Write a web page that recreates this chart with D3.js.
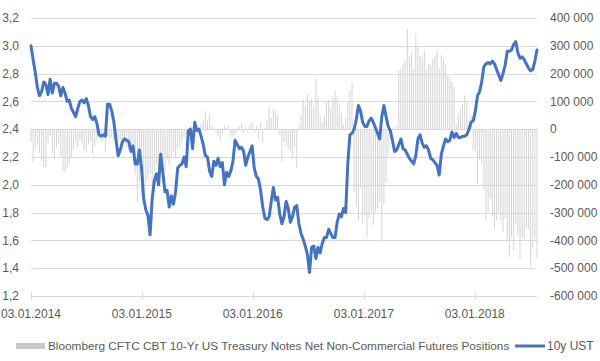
<!DOCTYPE html>
<html>
<head>
<meta charset="utf-8">
<script src="https://cdn.jsdelivr.net/npm/d3@7"></script>
<style>
  body { margin: 0; background: #fff; }
  svg text { font-family: "Liberation Sans", Arial, sans-serif; fill: #595959; }
</style>
</head>
<body>
<div id="chart"></div>
<script>
// 10y UST yield vs CFTC net non-commercial positions, weekly from 03.01.2014

const firstWeek = "2014-01-03",
    lastDay = "2018-07-27";

// net non-commercial positions, thousands of contracts (one per week)
const netPositionsK = [
  -45, -120, -75, -55, -85, -115, -135, -140, -50, -25, -90, -110, -65, -50, -95, -150,
  -155, -140, -125, -100, -70, -50, -65, -40, -50, -75, -85, -55, -45, -90, -60, -40,
  -30, -45, -40, -80, -25, -35, -30, -40, -55, -45, -40, -60, -50, -65, -75, -85,
  -95, -165, -262, -190,
  -230, -215, -200, -185, -160, -210, -150, -130, -170, -140, -120, -150, -110, -130, -100, -80,
  -105, -70, -60, -45, -30, -20,
  -15, 10, -10, 15, 20, -10, 20, 32, 66, 30, 52, 15,
  5, -10, -25, -40, -15, 14, 5, 12, -30, -25, -20,
  -10, 8, 20, -15, 10, -12, 15,
  25, -10, 10, -35, 25, -50, 5, 30, 83, 40, 72, 64, 52,
  -20, -118, -45, -60, -70, -80, -105, -60, -140, 10,
  50, 110, 85, 125, 100, 110, 85, 182, 115, 50, 25, 50, 100, 105, 75, 115,
  140, 120, 95, 60, 15, 40, 100, 140, 170,
  -225, -280, -330, -213, -339, -309, -387, -320, -303, -345, -300, -285, -261, -405, -270, -190, -93,
  -10, 5, -5, 10,
  212, 218, 236, 248, 359, 259, 272, 212, 344, 296, 266, 259, 284, 212, 236, 230,
  254, 263, 284, 218, 266, 254, 230, 194, 188, 170, 152,
  20, 55, 75, 90, 122, 100, 35, 50,
  -75, -80, -195, -110, -125, -219, -325, -297, -249, -315, -357, -327, -303, -330, -369, -320,
  -405, -459, -390, -435, -339, -380, -465, -390, -395, -355, -360, -495, -430, -395, -465
];

// 10y UST yield, % (one per week)
const ustYield = [
  3.00, 2.90, 2.81, 2.70, 2.64, 2.67, 2.74, 2.72, 2.65, 2.76, 2.66, 2.73, 2.73, 2.71, 2.64, 2.70,
  2.66, 2.60, 2.61, 2.55, 2.52, 2.49, 2.55, 2.60, 2.61, 2.59, 2.62, 2.57, 2.49, 2.47, 2.49, 2.44,
  2.36, 2.35, 2.36, 2.35, 2.58, 2.58, 2.53, 2.45, 2.32, 2.21, 2.25, 2.31, 2.33, 2.32, 2.31, 2.24,
  2.28, 2.15, 2.15, 2.25, 2.12,
  1.90, 1.82, 1.78, 1.64, 1.90, 2.03, 2.08, 2.00, 2.22, 2.09, 1.95, 1.96, 1.84, 1.92, 1.86, 1.95,
  2.12, 2.14, 2.15, 2.20, 2.13, 2.39, 2.40, 2.26, 2.45, 2.39, 2.40, 2.35, 2.29, 2.21, 2.20, 2.10,
  2.06, 2.17, 2.14, 2.19, 2.13, 2.16, 2.00, 2.09, 2.06, 2.10, 2.17, 2.32, 2.29, 2.26, 2.27, 2.24,
  2.14, 2.20, 2.24, 2.28,
  2.12, 2.06, 2.04, 1.96, 1.84, 1.76, 1.75, 1.77, 1.88, 1.98, 1.89, 1.91, 1.79, 1.72, 1.77, 1.88,
  1.83, 1.73, 1.77, 1.84, 1.85, 1.72, 1.65, 1.61, 1.56, 1.50, 1.37, 1.55, 1.56, 1.47, 1.55, 1.51,
  1.58, 1.62, 1.62, 1.68, 1.65, 1.62, 1.62, 1.73, 1.79, 1.77, 1.83, 1.80, 2.15, 2.36, 2.37, 2.40,
  2.47, 2.57, 2.53, 2.45,
  2.42, 2.42, 2.46, 2.48, 2.45, 2.41, 2.37, 2.33, 2.49, 2.57, 2.49, 2.42, 2.39, 2.32, 2.24, 2.25,
  2.29, 2.33, 2.26, 2.25, 2.22, 2.19, 2.17, 2.15, 2.21, 2.33, 2.36, 2.30, 2.27, 2.28, 2.25, 2.19,
  2.18, 2.16, 2.14, 2.07, 2.22, 2.28, 2.33, 2.31, 2.32, 2.38, 2.34, 2.37, 2.34, 2.34, 2.35, 2.35,
  2.36, 2.40, 2.45, 2.46,
  2.53, 2.64, 2.67, 2.74, 2.85, 2.87, 2.88, 2.87, 2.89, 2.87, 2.83, 2.79, 2.75, 2.80, 2.86, 2.96,
  2.96, 2.97, 3.01, 3.03, 2.95, 2.91, 2.92, 2.90, 2.87, 2.84, 2.82, 2.83, 2.89, 2.97
];

const dateTicks = ["2014-01-03", "2015-01-03", "2016-01-03", "2017-01-03", "2018-01-03"];
const yieldTicks = [1.2, 1.4, 1.6, 1.8, 2.0, 2.2, 2.4, 2.6, 2.8, 3.0, 3.2];
const positionTicksK = [-600, -500, -400, -300, -200, -100, 0, 100, 200, 300, 400];

const barLabel = "Bloomberg CFTC CBT 10-Yr US Treasury Notes Net Non-Commercial Futures Positions",
    lineLabel = "10y UST";

const width = 600,
    height = 361,
    margin = ({ top: 18, right: 63, bottom: 65, left: 31 });

const parse = d3.utcParse("%Y-%m-%d");
const start = parse(firstWeek);
const weeks = ustYield.map((d, i) => d3.utcDay.offset(start, 7 * i));

const svg = d3.select("#chart")
  .append("svg")
  .attr("width", width)
  .attr("height", height)
  .attr("viewBox", [0, 0, width, height]);

const x = d3.scaleUtc()
  .domain([start, parse(lastDay)])
  .range([margin.left, width - margin.right]);

const yL = d3.scaleLinear()
  .domain([1.2, 3.2])
  .range([height - margin.bottom, margin.top]);

const yR = d3.scaleLinear()
  .domain([-600, 400])
  .range([height - margin.bottom, margin.top]);

const fmtR = d3.formatLocale({ decimal: ",", thousands: " ", grouping: [3], currency: ["", ""], minus: "-" }).format(",");
const fmtL = d => d.toFixed(1).replace(".", ",");

// gridlines
svg.append("g")
  .selectAll("line")
  .data(yieldTicks)
  .join("line")
    .attr("x1", margin.left)
    .attr("x2", width - margin.right)
    .attr("y1", d => Math.round(yL(d)) + 0.5)
    .attr("y2", d => Math.round(yL(d)) + 0.5)
    .attr("stroke", "#d9d9d9")
    .attr("stroke-width", 1);

// x ticks
svg.append("g")
  .selectAll("line")
  .data(dateTicks.map(parse))
  .join("line")
    .attr("x1", d => Math.round(x(d)) + 0.5)
    .attr("x2", d => Math.round(x(d)) + 0.5)
    .attr("y1", height - margin.bottom - 4)
    .attr("y2", height - margin.bottom + 4)
    .attr("stroke", "#d9d9d9");

// bars
svg.append("g")
  .selectAll("rect")
  .data(netPositionsK)
  .join("rect")
    .attr("x", (d, i) => x(weeks[i]) - 0.5)
    .attr("width", 1)
    .attr("y", d => yR(Math.max(0, d)))
    .attr("height", d => Math.abs(yR(d) - yR(0)))
    .attr("fill", "#d4d4d4");

// yield line
const line = d3.line()
  .x((d, i) => x(weeks[i]))
  .y(d => yL(d));

svg.append("path")
  .datum(ustYield)
  .attr("d", line)
  .attr("fill", "none")
  .attr("stroke", "#4472C4")
  .attr("stroke-width", 3)
  .attr("stroke-linejoin", "round")
  .attr("stroke-linecap", "round");

// axis labels
svg.append("g")
  .selectAll("text")
  .data(yieldTicks)
  .join("text")
    .attr("x", 19)
    .attr("y", d => yL(d))
    .attr("dy", "0.35em")
    .attr("text-anchor", "end")
    .attr("font-size", 12)
    .text(fmtL);

svg.append("g")
  .selectAll("text")
  .data(positionTicksK)
  .join("text")
    .attr("x", 550)
    .attr("y", d => yR(d))
    .attr("dy", "0.35em")
    .attr("font-size", 12)
    .text(d => fmtR(d * 1000));

svg.append("g")
  .selectAll("text")
  .data(dateTicks.map(parse))
  .join("text")
    .attr("x", d => x(d))
    .attr("y", 314)
    .attr("dy", "0.35em")
    .attr("text-anchor", "middle")
    .attr("font-size", 12)
    .text(d3.utcFormat("%d.%m.%Y"));

// legend
const legend = svg.append("g");
legend.append("rect")
  .attr("x", 16).attr("y", 343)
  .attr("width", 29).attr("height", 6)
  .attr("fill", "#c8c8c8");
const lt = legend.append("text")
  .attr("x", 48).attr("y", 346)
  .attr("dy", "0.35em")
  .attr("font-size", 12)
  .text(barLabel);
const len = lt.node().getComputedTextLength();
if (len > 462) lt.attr("font-size", 12 * 462 / len);
legend.append("line")
  .attr("x1", 515).attr("x2", 545)
  .attr("y1", 346).attr("y2", 346)
  .attr("stroke", "#4472C4")
  .attr("stroke-width", 3);
legend.append("text")
  .attr("x", 547).attr("y", 346)
  .attr("dy", "0.35em")
  .attr("font-size", 12)
  .text(lineLabel);
</script>
</body>
</html>
